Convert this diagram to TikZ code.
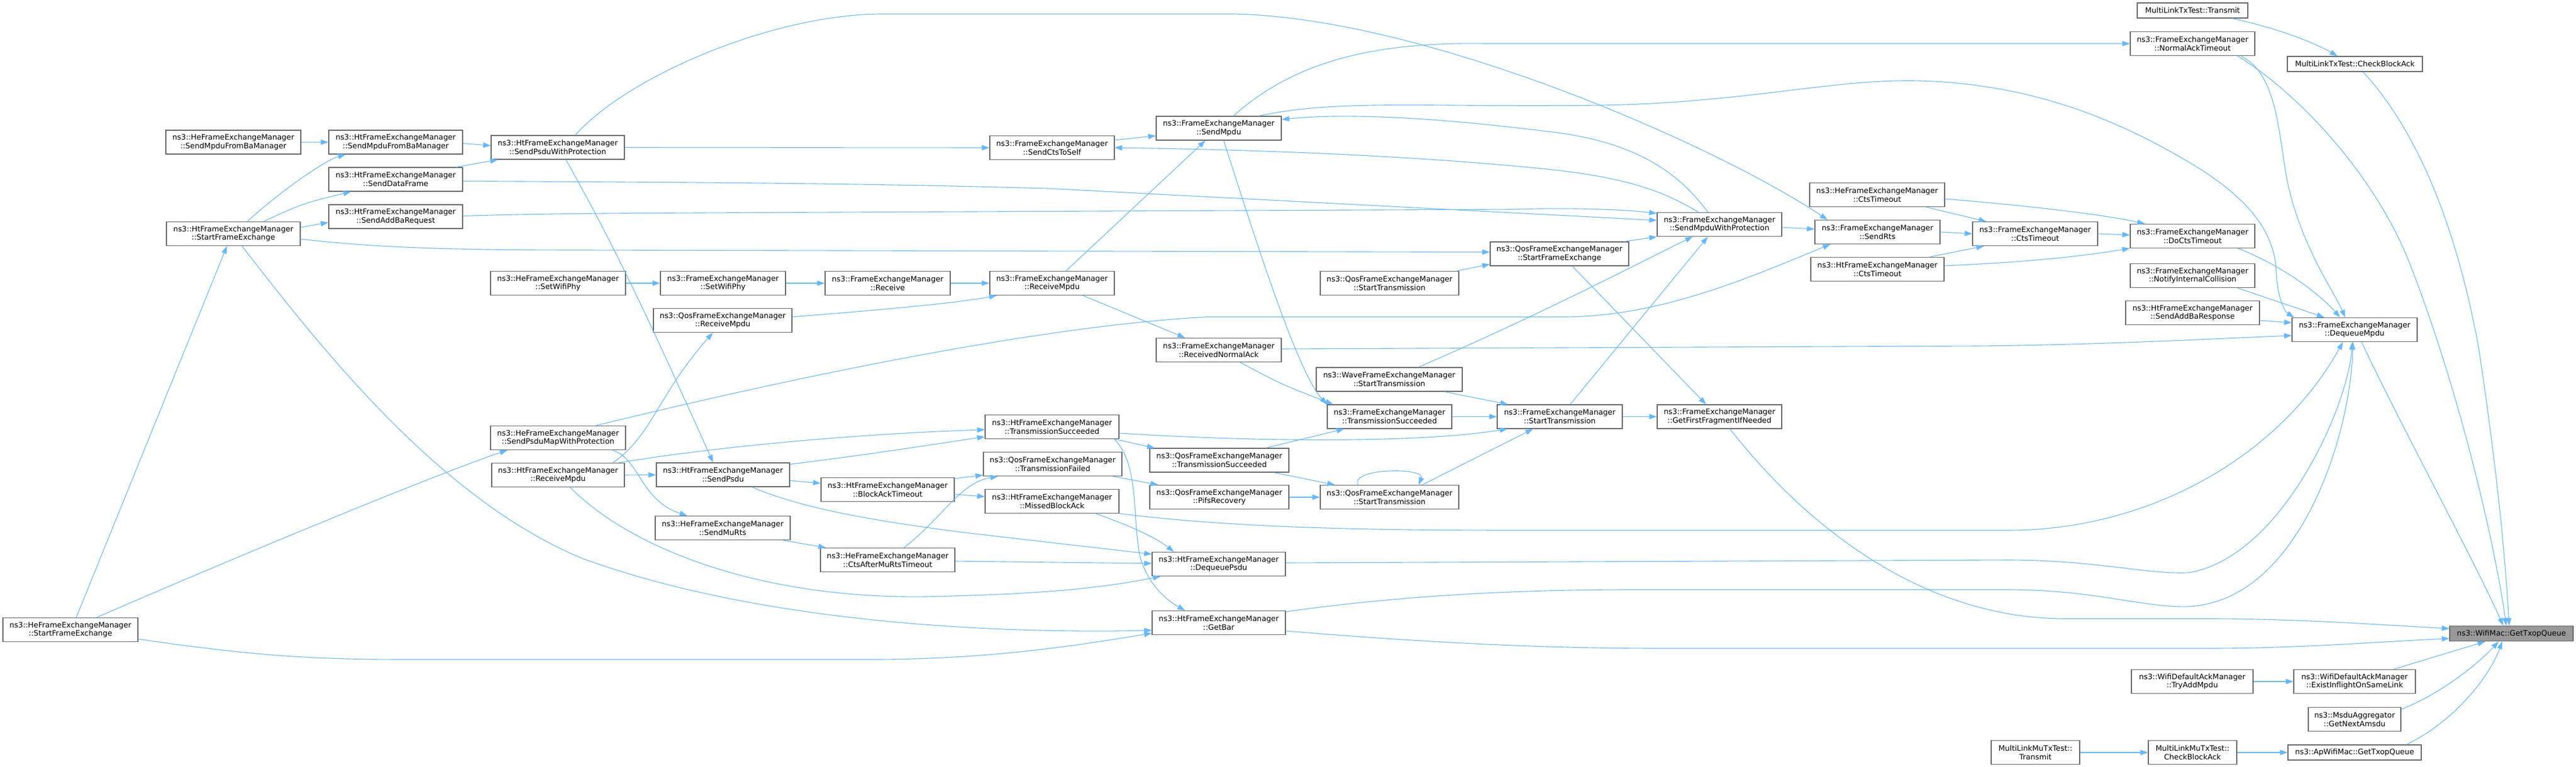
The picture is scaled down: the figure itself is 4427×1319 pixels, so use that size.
\documentclass[tikz,border=0pt]{standalone}
\usepackage{fontspec}
\setmainfont{DejaVu Sans}
\usetikzlibrary{arrows.meta}
\definecolor{edgeblue}{HTML}{63B8FF}
\definecolor{boxgray}{HTML}{666666}
\definecolor{rootgray}{HTML}{999999}
\tikzset{
  fnbox/.style={draw=boxgray, line width=1.3pt, fill=white, align=center, inner sep=0pt,
    minimum height=41pt, font=\fontsize{12.9}{14.7}\selectfont},
  fnline/.style={fnbox, minimum height=26pt},
  rootbox/.style={fnline, fill=rootgray},
  calls/.style={draw=edgeblue, line width=1.1pt, -{Triangle[length=13pt,width=9pt]}}
}
\begin{document}
\begin{tikzpicture}[x=1pt, y=-1pt]
  \useasboundingbox (0,0) rectangle (4427,1319);

  \node[fnbox, minimum width=232pt] (heSfe) at (121,1083) {ns3::HeFrameExchangeManager\\::StartFrameExchange};
  \node[fnbox, minimum width=232pt] (heSmfb) at (401,244.5) {ns3::HeFrameExchangeManager\\::SendMpduFromBaManager};
  \node[fnbox, minimum width=230pt] (htSfe) at (401,402) {ns3::HtFrameExchangeManager\\::StartFrameExchange};
  \node[fnbox, minimum width=230pt] (htSmfb) at (680,244.5) {ns3::HtFrameExchangeManager\\::SendMpduFromBaManager};
  \node[fnbox, minimum width=230pt] (htSdf) at (680,308.5) {ns3::HtFrameExchangeManager\\::SendDataFrame};
  \node[fnbox, minimum width=230pt] (htSabr) at (680,372.5) {ns3::HtFrameExchangeManager\\::SendAddBaRequest};
  \node[fnbox, minimum width=229pt] (htSpwp) at (958.5,253.5) {ns3::HtFrameExchangeManager\\::SendPsduWithProtection};
  \node[fnbox, minimum width=232pt] (heSwp) at (959,487) {ns3::HeFrameExchangeManager\\::SetWifiPhy};
  \node[fnbox, minimum width=232pt] (heSpmwp) at (959,753) {ns3::HeFrameExchangeManager\\::SendPsduMapWithProtection};
  \node[fnbox, minimum width=228pt] (htRm) at (959,817) {ns3::HtFrameExchangeManager\\::ReceiveMpdu};
  \node[fnbox, minimum width=215pt] (femSwp) at (1242.5,487) {ns3::FrameExchangeManager\\::SetWifiPhy};
  \node[fnbox, minimum width=238pt] (qosRm) at (1242,551) {ns3::QosFrameExchangeManager\\::ReceiveMpdu};
  \node[fnbox, minimum width=229pt] (htSp) at (1242.5,816.5) {ns3::HtFrameExchangeManager\\::SendPsdu};
  \node[fnbox, minimum width=232pt] (heSmr) at (1242,908) {ns3::HeFrameExchangeManager\\::SendMuRts};
  \node[fnbox, minimum width=215pt] (femRecv) at (1525.5,487) {ns3::FrameExchangeManager\\::Receive};
  \node[fnbox, minimum width=229pt] (htBat) at (1525.5,842) {ns3::HtFrameExchangeManager\\::BlockAckTimeout};
  \node[fnbox, minimum width=231pt] (heCamrt) at (1525.5,963) {ns3::HeFrameExchangeManager\\::CtsAfterMuRtsTimeout};
  \node[fnbox, minimum width=214pt] (femScts) at (1808,254) {ns3::FrameExchangeManager\\::SendCtsToSelf};
  \node[fnbox, minimum width=214pt] (femRm) at (1808,487) {ns3::FrameExchangeManager\\::ReceiveMpdu};
  \node[fnbox, minimum width=230pt] (htTs) at (1808,734) {ns3::HtFrameExchangeManager\\::TransmissionSucceeded};
  \node[fnbox, minimum width=238pt] (qosTf) at (1809,798) {ns3::QosFrameExchangeManager\\::TransmissionFailed};
  \node[fnbox, minimum width=230pt] (htMba) at (1808,862) {ns3::HtFrameExchangeManager\\::MissedBlockAck};
  \node[fnbox, minimum width=215pt] (femSm) at (2094.5,220.5) {ns3::FrameExchangeManager\\::SendMpdu};
  \node[fnbox, minimum width=215pt] (femRna) at (2094.5,602) {ns3::FrameExchangeManager\\::ReceivedNormalAck};
  \node[fnbox, minimum width=239pt] (qosTs) at (2095.5,791.5) {ns3::QosFrameExchangeManager\\::TransmissionSucceeded};
  \node[fnbox, minimum width=239pt] (qosPr) at (2095.5,855) {ns3::QosFrameExchangeManager\\::PifsRecovery};
  \node[fnbox, minimum width=229pt] (htDp) at (2094.5,970) {ns3::HtFrameExchangeManager\\::DequeuePsdu};
  \node[fnbox, minimum width=229pt] (htGb) at (2094.5,1071) {ns3::HtFrameExchangeManager\\::GetBar};
  \node[fnbox, minimum width=238pt] (qosSt1) at (2388,487) {ns3::QosFrameExchangeManager\\::StartTransmission};
  \node[fnbox, minimum width=251pt] (waveSt) at (2387.5,652.5) {ns3::WaveFrameExchangeManager\\::StartTransmission};
  \node[fnbox, minimum width=214pt] (femTs) at (2388,716.5) {ns3::FrameExchangeManager\\::TransmissionSucceeded};
  \node[fnbox, minimum width=238pt] (qosSt2) at (2388,855) {ns3::QosFrameExchangeManager\\::StartTransmission};
  \node[fnbox, minimum width=238pt] (qosSfe) at (2680,436.5) {ns3::QosFrameExchangeManager\\::StartFrameExchange};
  \node[fnbox, minimum width=215pt] (femSt) at (2680.5,716.5) {ns3::FrameExchangeManager\\::StartTransmission};
  \node[fnbox, minimum width=214pt] (femSmwp) at (2955,386) {ns3::FrameExchangeManager\\::SendMpduWithProtection};
  \node[fnbox, minimum width=214pt] (femGffn) at (2955,716.5) {ns3::FrameExchangeManager\\::GetFirstFragmentIfNeeded};
  \node[fnbox, minimum width=232pt] (heCto) at (3226,335) {ns3::HeFrameExchangeManager\\::CtsTimeout};
  \node[fnbox, minimum width=215pt] (femSr) at (3226.5,399) {ns3::FrameExchangeManager\\::SendRts};
  \node[fnbox, minimum width=229pt] (htCto) at (3226.5,463) {ns3::HtFrameExchangeManager\\::CtsTimeout};
  \node[fnbox, minimum width=215pt] (femCto) at (3497.5,402) {ns3::FrameExchangeManager\\::CtsTimeout};
  \node[fnline, minimum width=190pt] (mltTx) at (3768,18) {MultiLinkTxTest::Transmit};
  \node[fnbox, minimum width=214pt] (femNat) at (3768,75) {ns3::FrameExchangeManager\\::NormalAckTimeout};
  \node[fnbox, minimum width=214pt] (femDcto) at (3768,406) {ns3::FrameExchangeManager\\::DoCtsTimeout};
  \node[fnbox, minimum width=214pt] (femNic) at (3768,474) {ns3::FrameExchangeManager\\::NotifyInternalCollision};
  \node[fnbox, minimum width=230pt] (htSabresp) at (3768,538) {ns3::HtFrameExchangeManager\\::SendAddBaResponse};
  \node[fnbox, minimum width=209pt] (ackTam) at (3767.5,1172) {ns3::WifiDefaultAckManager\\::TryAddMpdu};
  \node[fnbox, minimum width=152pt] (mlmTx) at (3498,1294) {MultiLinkMuTxTest::\\Transmit};
  \node[fnline, minimum width=232pt] (mltCba) at (4047,110) {MultiLinkTxTest::CheckBlockAck};
  \node[fnbox, minimum width=215pt] (femDm) at (4046.5,567) {ns3::FrameExchangeManager\\::DequeueMpdu};
  \node[fnbox, minimum width=209pt] (ackEio) at (4046.5,1172) {ns3::WifiDefaultAckManager\\::ExistInflightOnSameLink};
  \node[fnbox, minimum width=159pt] (msduGna) at (4046.5,1237) {ns3::MsduAggregator\\::GetNextAmsdu};
  \node[fnbox, minimum width=152pt] (mlmCba) at (3768,1294) {MultiLinkMuTxTest::\\CheckBlockAck};
  \node[fnline, minimum width=229pt] (apGtq) at (4046.5,1294) {ns3::ApWifiMac::GetTxopQueue};
  \node[rootbox, minimum width=212pt] (root) at (4316,1089.5) {ns3::WifiMac::GetTxopQueue};

  \draw[calls] (heSmfb.east) -- (htSmfb.west);
  \draw[calls] ([xshift=24pt]htSfe.north) .. controls (480,330) and (560,275) .. ([xshift=-86pt]htSmfb.south);
  \draw[calls] ([xshift=52pt]htSfe.north) .. controls (520,350) .. ([xshift=-77pt]htSdf.south);
  \draw[calls] ([yshift=11pt]htSfe.east) -- ([yshift=-10pt]htSabr.west);
  \draw[calls] ([yshift=-9pt]htSfe.east) .. controls (650,427) and (800,430) .. (1000,430) -- ([yshift=3pt]qosSfe.west);
  \draw[calls] ([xshift=15pt]htSfe.south) .. controls (560,610) and (760,860) .. (1000,960) .. controls (1300,1070) and (1700,1090) .. ([yshift=-13pt]htGb.west);
  \draw[calls] ([xshift=10pt]heSfe.north) -- ([xshift=-11pt]htSfe.south);
  \draw[calls] ([xshift=45pt]heSfe.north) .. controls (400,960) and (750,815) .. ([xshift=-87pt]heSpmwp.south);
  \draw[calls] ([yshift=-16pt]heSfe.east) .. controls (450,1130) and (550,1134) .. (700,1134) -- (1500,1134) .. controls (1700,1134) and (1850,1110) .. ([yshift=-18pt]htGb.west);
  \draw[calls] ([yshift=-2pt]htSmfb.east) -- ([yshift=3pt]htSpwp.west);
  \draw[calls] ([xshift=104pt]htSdf.north) -- ([xshift=-103pt]htSpwp.south);
  \draw[calls] ([yshift=-3pt]htSdf.east) .. controls (1300,314) and (1500,316) .. (1800,324) -- ([yshift=7pt]femSmwp.west);
  \draw[calls] ([yshift=1pt]htSabr.east) .. controls (900,368) and (1000,367) .. (1200,366) -- (2600,360) .. controls (2700,357) and (2790,360) .. ([yshift=19pt]femSmwp.west);
  \draw[calls] (htSpwp.east) -- (femScts.west);
  \draw[calls] ([xshift=30pt]htSpwp.north) .. controls (1080,130) and (1330,24) .. (1517,24) -- (2119,24) .. controls (2450,30) and (2950,250) .. ([xshift=-86pt]femSr.north);
  \draw[calls] ([xshift=14pt]htSpwp.south) .. controls (1060,430) and (1120,560) .. ([xshift=-17pt]htSp.north);
  \draw[calls] (heSwp.east) -- (femSwp.west);
  \draw[calls] (femSwp.east) -- (femRecv.west);
  \draw[calls] (femRecv.east) -- (femRm.west);
  \draw[calls] ([yshift=6pt]qosRm.east) .. controls (1550,530) and (1650,520) .. ([xshift=-95pt]femRm.south);
  \draw[calls] ([xshift=94pt]htRm.north) .. controls (1120,750) and (1130,680) .. ([xshift=-17pt]qosRm.south);
  \draw[calls] ([xshift=104pt]htRm.north) .. controls (1250,765) and (1500,745) .. ([yshift=-5pt]htTs.west);
  \draw[calls] (htRm.east) -- (htSp.west);
  \draw[calls] ([xshift=21pt]htRm.south) .. controls (1080,940) and (1300,1030) .. (1590,1026) .. controls (1800,1022) and (1900,1010) .. ([xshift=-100pt]htDp.south);
  \draw[calls] ([xshift=65pt]heSpmwp.north) .. controls (1400,640) and (1800,560) .. (2074,545) -- (2686,545) .. controls (2850,545) and (3000,480) .. ([xshift=-81pt]femSr.south);
  \draw[calls] ([xshift=94pt]heSpmwp.south) .. controls (1100,790) and (1100,860) .. ([xshift=-61pt]heSmr.north);
  \draw[calls] ([yshift=18pt]htSp.east) .. controls (1500,780) .. ([yshift=-17pt]htTs.west);
  \draw[calls] ([yshift=-10pt]htSp.east) -- ([yshift=11pt]htBat.west);
  \draw[calls] ([xshift=50pt]htSp.south) .. controls (1380,875) and (1500,895) .. (1650,915) -- ([yshift=17pt]htDp.west);
  \draw[calls] ([xshift=104pt]heSmr.south) -- ([xshift=-106pt]heCamrt.north);
  \draw[calls] ([yshift=19pt]htBat.east) -- ([yshift=-19pt]qosTf.west);
  \draw[calls] ([yshift=-8pt]htBat.east) -- ([yshift=8pt]htMba.west);
  \draw[calls] ([xshift=28pt]heCamrt.north) .. controls (1620,890) and (1650,830) .. ([xshift=-94pt]qosTf.south);
  \draw[calls] ([yshift=-2pt]heCamrt.east) -- ([yshift=1pt]htDp.west);
  \draw[calls] ([yshift=13pt]femScts.east) -- ([yshift=-13pt]femSm.west);
  \draw[calls] ([xshift=24pt]femRm.north) -- ([xshift=-23pt]femSm.south);
  \draw[calls] ([xshift=53pt]femRm.south) -- ([xshift=-58pt]femRna.north);
  \draw[calls] ([xshift=-8pt]htTs.south east) -- ([xshift=9pt]qosTs.north west);
  \draw[calls] ([yshift=-11pt]htTs.east) .. controls (2200,762) and (2450,760) .. ([xshift=-90pt]femSt.south);
  \draw[calls] ([xshift=107pt]htTs.south) .. controls (1960,800) and (1945,900) .. (1960,960) .. controls (1975,1010) and (2010,1035) .. ([xshift=-58pt]htGb.north);
  \draw[calls] ([xshift=-16pt]qosTf.south east) -- ([xshift=15pt]qosPr.north west);
  \draw[calls] ([xshift=75pt]htMba.south) .. controls (1930,900) and (1980,920) .. ([xshift=-77pt]htDp.north);
  \draw[calls] (htMba.south east) .. controls (2100,905) and (2300,912) .. (2600,912) -- (3450,912) .. controls (3700,912) and (3920,780) .. ([xshift=-20pt]femDm.south);
  \draw[calls] ([xshift=25pt]femSm.north) .. controls (2220,110) and (2350,72) .. (2550,75) -- (femNat.west);
  \draw[calls] ([xshift=69pt]femSm.north) .. controls (2300,170) and (2450,185) .. (2750,181) .. controls (3000,177) and (3150,135) .. (3300,139) .. controls (3500,145) and (3650,210) .. (3780,290) .. controls (3890,360) and (3910,420) .. (3912,470) .. controls (3914,510) and (3925,535) .. ([xshift=-104pt]femDm.north);
  \draw[calls] ([xshift=8.5pt]femSm.south) .. controls (2160,420) and (2230,640) .. (femTs.north west);
  \draw[calls] ([xshift=37pt]femRna.south) .. controls (2200,660) .. ([xshift=-97pt]femTs.north);
  \draw[calls] ([yshift=2pt]femRna.east) -- (3400,595) .. controls (3600,593) and (3800,583) .. ([yshift=-10pt]femDm.west);
  \draw[calls] ([xshift=80pt]qosTs.north) -- ([xshift=-78pt]femTs.south);
  \draw[calls] ([xshift=94pt]qosTs.south) -- ([xshift=-94pt]qosSt2.north);
  \draw[calls] (qosPr.east) -- (qosSt2.west);
  \draw[calls] ([yshift=2pt]htDp.east) -- (3450,963) .. controls (3600,963) and (3690,988) .. (3760,985) .. controls (3920,960) and (4035,700) .. ([xshift=-4pt]femDm.south);
  \draw[calls] ([yshift=19pt]htGb.east) .. controls (2400,1025) and (2600,1014) .. (2800,1014) -- (3450,1014) .. controls (3600,1014) and (3680,1045) .. (3760,1043) .. controls (3950,1035) and (4040,750) .. ([xshift=-3pt]femDm.south);
  \draw[calls] ([yshift=-14pt]htGb.east) .. controls (2450,1105) and (2650,1115) .. (2850,1115) -- (3800,1115) .. controls (3950,1115) and (4100,1103) .. ([yshift=-8.5pt]root.west);
  \draw[calls] ([xshift=-4pt]qosSt1.north east) -- ([yshift=-18pt]qosSfe.west);
  \draw[calls] ([xshift=95pt]waveSt.south) -- ([xshift=-89pt]femSt.north);
  \draw[calls] ([xshift=50pt]waveSt.north) .. controls (2650,540) and (2820,450) .. ([xshift=-46pt]femSmwp.south);
  \draw[calls] (femTs.east) -- (femSt.west);
  \draw[calls] ([xshift=-54pt]qosSt2.north) .. controls (2320,804) and (2450,804) .. ([xshift=50pt]qosSt2.north);
  \draw[calls] ([xshift=56pt]qosSt2.north) -- ([xshift=-46pt]femSt.south);
  \draw[calls] ([xshift=-8pt]qosSfe.north east) -- (femSmwp.south west);
  \draw[calls] ([xshift=22pt]qosSfe.south) -- ([xshift=-23pt]femGffn.north);
  \draw[calls] ([xshift=18pt]femSt.north) -- ([xshift=-20pt]femSmwp.south);
  \draw[calls] (femSt.east) -- (femGffn.west);
  \draw[calls] ([xshift=-20pt]femSmwp.north) .. controls (2880,290) and (2800,240) .. (2650,225) .. controls (2450,200) and (2300,195) .. ([yshift=15pt]femSm.east);
  \draw[calls] ([xshift=-36pt]femSmwp.north) .. controls (2860,330) and (2800,305) .. (2650,290) .. controls (2450,270) and (2200,258) .. (femScts.east);
  \draw[calls] ([yshift=-5pt]femSmwp.east) -- ([yshift=5pt]femSr.west);
  \draw[calls] ([xshift=18pt]femGffn.south) .. controls (3100,900) and (3300,1064) .. (3550,1064) -- (3800,1064) .. controls (3950,1064) and (4100,1075) .. ([yshift=8.5pt]root.west);
  \draw[calls] ([xshift=84pt]heCto.south) -- ([xshift=-84pt]femCto.north);
  \draw[calls] ([yshift=-7pt]heCto.east) .. controls (3500,355) and (3620,370) .. ([xshift=-82pt]femDcto.north);
  \draw[calls] (femSr.east) -- (femCto.west);
  \draw[calls] ([xshift=90pt]htCto.north) -- ([xshift=-88pt]femCto.south);
  \draw[calls] ([yshift=6pt]htCto.east) .. controls (3500,450) and (3580,440) .. (femDcto.south west);
  \draw[calls] (femCto.east) -- ([yshift=2pt]femDcto.west);
  \draw[calls] ([xshift=68pt]mltTx.south) .. controls (3920,50) and (3980,75) .. ([xshift=-30pt]mltCba.north);
  \draw[calls] ([xshift=83pt]femNat.south) .. controls (3920,130) and (3915,250) .. (3935,330) .. controls (3960,430) and (4010,500) .. ([xshift=-16pt]femDm.north);
  \draw[calls] ([xshift=77pt]femNat.south) .. controls (3950,160) and (4080,300) .. (4140,450) .. controls (4230,680) and (4290,950) .. ([xshift=-9pt]root.north);
  \draw[calls] ([xshift=14pt]mltCba.south) .. controls (4150,220) and (4220,380) .. (4260,600) .. controls (4290,800) and (4305,950) .. ([xshift=-4pt]root.north);
  \draw[calls] ([xshift=78pt]femDcto.south) .. controls (3930,460) and (3990,510) .. ([xshift=-25pt]femDm.north);
  \draw[calls] ([xshift=77pt]femNic.south) -- ([xshift=-52pt]femDm.north);
  \draw[calls] ([yshift=-13pt]htSabresp.east) -- ([yshift=12pt]femDm.west);
  \draw[calls] ([xshift=12pt]femDm.south) .. controls (4120,720) and (4250,960) .. ([xshift=-14pt]root.north);
  \draw[calls] (ackTam.east) -- (ackEio.west);
  \draw[calls] ([xshift=67pt]ackEio.north) -- ([xshift=-45pt]root.south);
  \draw[calls] ([yshift=17pt]msduGna.east) .. controls (4200,1190) and (4260,1140) .. ([xshift=-22pt]root.south);
  \draw[calls] (mlmTx.east) -- (mlmCba.west);
  \draw[calls] (mlmCba.east) -- (apGtq.west);
  \draw[calls] ([xshift=89pt]apGtq.north) .. controls (4220,1240) and (4280,1160) .. ([xshift=-16pt]root.south);
\end{tikzpicture}
\end{document}
